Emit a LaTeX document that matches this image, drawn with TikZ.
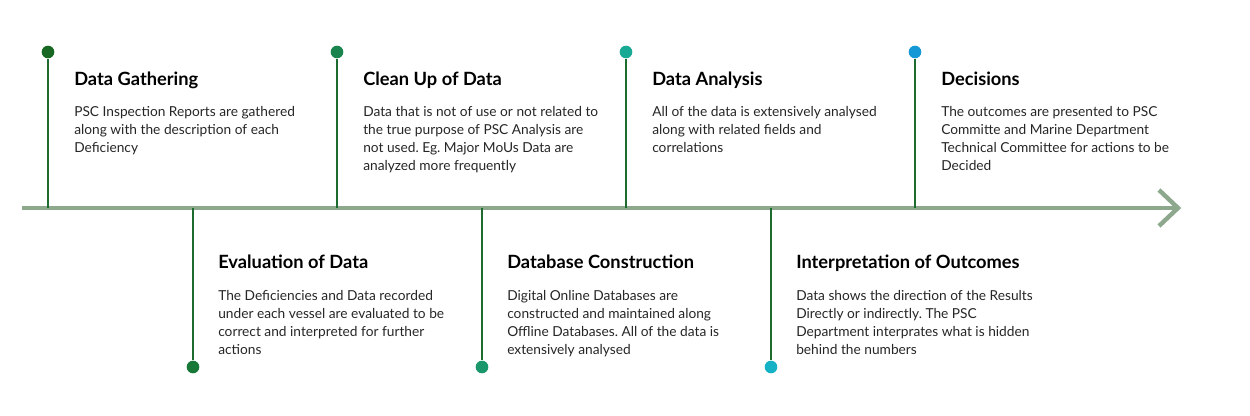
\documentclass[tikz,border=0pt]{standalone}
\usepackage{fontspec}
\setmainfont{Lato}
\frenchspacing
\definecolor{axisgreen}{RGB}{141,168,140}
\definecolor{stemgreen}{RGB}{30,108,45}
\definecolor{dotA}{RGB}{24,104,36}
\definecolor{dotB}{RGB}{24,120,56}
\definecolor{dotC}{RGB}{26,132,78}
\definecolor{dotD}{RGB}{26,152,108}
\definecolor{dotE}{RGB}{24,170,148}
\definecolor{dotF}{RGB}{20,178,196}
\definecolor{dotG}{RGB}{20,152,214}
\definecolor{bodygray}{RGB}{38,38,38}

\begin{document}
\begin{tikzpicture}[x=0.75pt,y=-0.75pt]
\tikzstyle{dot}=[circle,inner sep=0pt,minimum size=9.5pt]
\tikzstyle{stem}=[stemgreen,line width=2.2pt]
\tikzstyle{axis}=[axisgreen,line width=3.3pt]
\tikzstyle{title}=[anchor=base west,inner sep=0pt,font=\fontsize{13.7}{15}\selectfont\bfseries]
\tikzstyle{body}=[anchor=north west,inner sep=0pt,align=left,text=bodygray,font=\fontsize{10.3}{13.5}\selectfont]
\useasboundingbox (0,0) rectangle (1250,416);
% time line
\coordinate (start) at (22,208);
\coordinate (tip) at (1178,208);
\coordinate (tipup) at (1159,190);
\coordinate (tipdown) at (1159,226);
\draw [axis] (start) -- (tip);
\draw [axis] (tipup) -- (tip) -- (tipdown);
% stems
\coordinate (f1) at (48,208);
\coordinate (f2) at (193,208);
\coordinate (f3) at (337,208);
\coordinate (f4) at (482,208);
\coordinate (f5) at (626,208);
\coordinate (f6) at (771,208);
\coordinate (f7) at (915,208);
\node [dot,fill=dotA] (d1) at (48,52) {};
\node [dot,fill=dotB] (d2) at (193,367) {};
\node [dot,fill=dotC] (d3) at (337,52) {};
\node [dot,fill=dotD] (d4) at (482,367) {};
\node [dot,fill=dotE] (d5) at (626,52) {};
\node [dot,fill=dotF] (d6) at (771,367) {};
\node [dot,fill=dotG] (d7) at (915,52) {};
\draw [stem] (f1) -- (d1.south);
\draw [stem] (f2) -- (d2.north);
\draw [stem] (f3) -- (d3.south);
\draw [stem] (f4) -- (d4.north);
\draw [stem] (f5) -- (d5.south);
\draw [stem] (f6) -- (d6.north);
\draw [stem] (f7) -- (d7.south);
% upper steps
\node [title] (t1) at (74,86) {Data Gathering};
\node [body] (b1) at (74,106) {PSC Inspection Reports are gathered\\along with the description of each\\Deficiency};
\node [title] (t3) at (363,86) {Clean Up of Data};
\node [body] (b3) at (363,106) {Data that is not of use or not related to\\the true purpose of PSC Analysis are\\not used. Eg. Major MoUs Data are\\analyzed more frequently};
\node [title] (t5) at (652,86) {Data Analysis};
\node [body] (b5) at (652,106) {All of the data is extensively analysed\\along with related fields and\\correlations};
\node [title] (t7) at (941,86) {Decisions};
\node [body] (b7) at (941,106) {The outcomes are presented to PSC\\Committe and Marine Department\\Technical Committee for actions to be\\Decided};
% lower steps
\node [title] (t2) at (218,269) {Evaluation of Data};
\node [body] (b2) at (218,290) {The Deficiencies and Data recorded\\under each vessel are evaluated to be\\correct and interpreted for further\\actions};
\node [title] (t4) at (507,269) {Database Construction};
\node [body] (b4) at (507,290) {Digital Online Databases are\\constructed and maintained along\\Offline Databases. All of the data is\\extensively analysed};
\node [title] (t6) at (796,269) {Interpretation of Outcomes};
\node [body] (b6) at (796,290) {Data shows the direction of the Results\\Directly or indirectly. The PSC\\Department interprates what is hidden\\behind the numbers};
\end{tikzpicture}
\end{document}
